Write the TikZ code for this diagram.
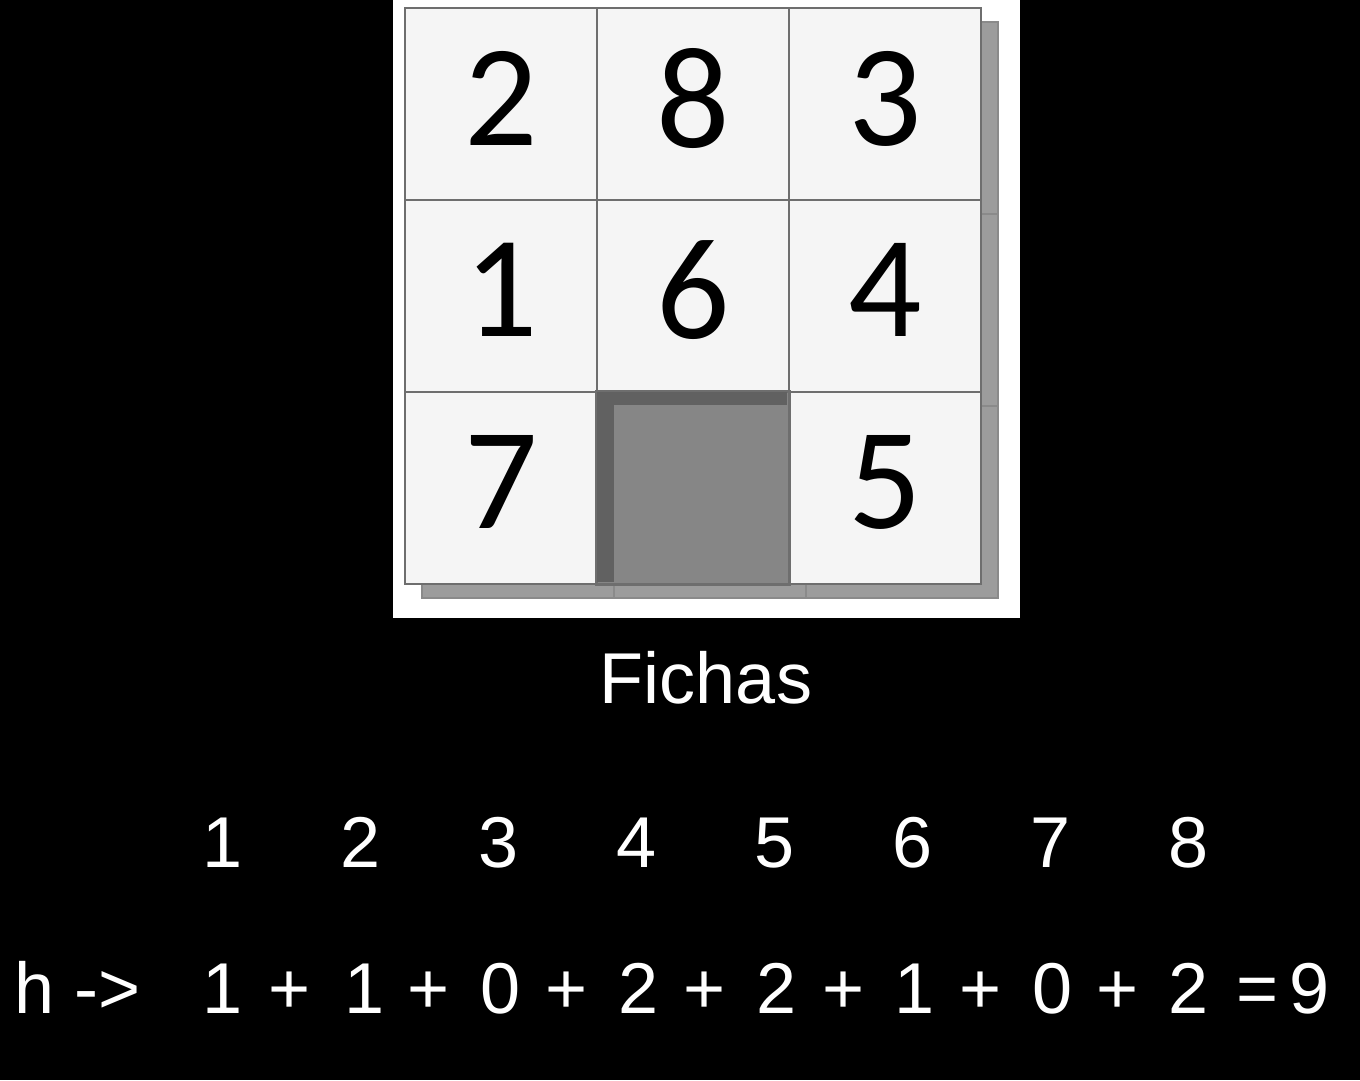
\documentclass[tikz,border=0pt]{standalone}
\usepackage{fontspec}
\setmainfont{Liberation Sans}
\newfontfamily\tilefont{Carlito}
\definecolor{tileline}{HTML}{6E6E6E}
\definecolor{tilefill}{HTML}{F5F5F5}
\definecolor{shadowfill}{HTML}{9C9C9C}
\definecolor{shadowline}{HTML}{8A8A8A}
\definecolor{holefill}{HTML}{868686}
\definecolor{holedark}{HTML}{616161}
\begin{document}
\begin{tikzpicture}[x=1pt,y=-1pt,
  tile/.style={draw=tileline, line width=2pt, fill=tilefill, minimum size=192pt,
    inner sep=0pt, text depth=12pt, font=\tilefont\fontsize{145}{145}\selectfont},
  shadowtile/.style={draw=shadowline, line width=1.5pt, fill=shadowfill, minimum size=192pt, inner sep=0pt},
  hole/.style={draw=tileline, line width=2pt, fill=holefill, minimum size=192pt, inner sep=0pt},
  lbl/.style={text=white, font=\fontsize{72}{72}\selectfont, anchor=base, inner sep=0pt}]
\fill[black] (0,0) rectangle (1360,1080);
\useasboundingbox (0,0) rectangle (1360,1080);
\fill[white] (393,0) rectangle (1020,618);
% shadow layer
\foreach \c/\x in {1/518,2/710,3/902}{
  \foreach \r/\y in {1/118,2/310,3/502}{
    \node[shadowtile] (s\r\c) at (\x,\y) {};
  }
}
% tiles
\node[tile] (t11) at (501,104) {2};
\node[tile] (t12) at (693,104) {8};
\node[tile] (t13) at (885,104) {3};
\node[tile] (t21) at (501,296) {1};
\node[tile] (t22) at (693,296) {6};
\node[tile] (t23) at (885,296) {4};
\node[tile] (t31) at (501,488) {7};
\node[hole] (t32) at (693,488) {};
\node[tile] (t33) at (885,488) {5};
\fill[holedark] (t32.north west) ++(1,1) rectangle ++(17,190);
\fill[holedark] (t32.north west) ++(1,1) rectangle ++(190,13);
\draw[tileline, line width=2pt] (t32.north west) rectangle (t32.south east);
% caption
\node[lbl] (cap) at (706,703) {Fichas};
% tile indices
\foreach \i/\x in {1/223,2/361,3/499,4/637,5/775,6/913,7/1051,8/1189}{
  \node[lbl] (i\i) at (\x,867) {\i};
}
% heuristic row
\node[lbl, anchor=base west] (h) at (14,1013) {h ->};
\node[lbl] (v1) at (223,1013) {1};
\node[lbl] (p1) at (290,1013) {+};
\node[lbl] (v2) at (365,1013) {1};
\node[lbl] (p2) at (429,1013) {+};
\node[lbl] (v3) at (501,1013) {0};
\node[lbl] (p3) at (567,1013) {+};
\node[lbl] (v4) at (639,1013) {2};
\node[lbl] (p4) at (705,1013) {+};
\node[lbl] (v5) at (777,1013) {2};
\node[lbl] (p5) at (844,1013) {+};
\node[lbl] (v6) at (915,1013) {1};
\node[lbl] (p6) at (981,1013) {+};
\node[lbl] (v7) at (1053,1013) {0};
\node[lbl] (p7) at (1118,1013) {+};
\node[lbl] (v8) at (1189,1013) {2};
\node[lbl] (eq) at (1258,1013) {=};
\node[lbl] (res) at (1310,1013) {9};
\end{tikzpicture}
\end{document}
